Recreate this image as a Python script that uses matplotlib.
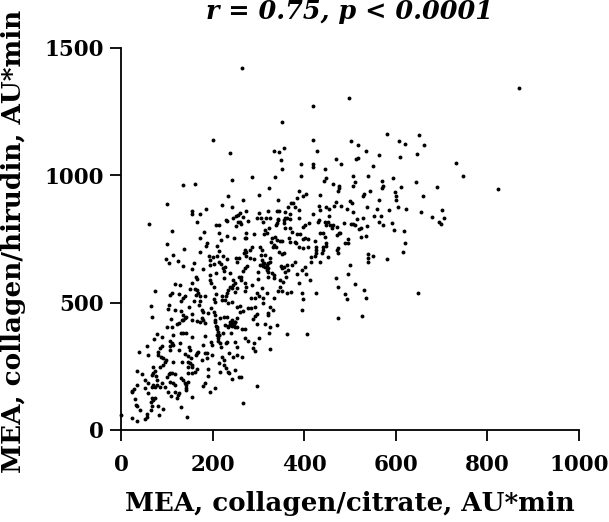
import matplotlib
matplotlib.use('Agg')
import matplotlib.pyplot as plt

# values, AU*min
citrate_high = [264, 498, 419, 352, 201, 419, 356, 333, 345, 427, 238, 350, 469, 481, 394, 419, 419, 352, 445, 287,
                337, 394, 242, 448, 443, 135, 161, 462, 477, 323, 475, 474, 388, 405, 398, 301, 234, 435, 384, 266,
                342, 499, 470, 221, 100, 242, 371, 375, 365, 381, 433, 480, 465, 185, 154, 154, 172, 273, 434, 448,
                455, 494, 420, 455, 389, 369, 358, 340, 345, 321, 302, 256, 260, 251, 267, 245, 296, 305, 316, 325,
                342, 358, 363, 388, 229]
hirudin_high = [1420, 1305, 1274, 1211, 1138, 1138, 1107, 1096, 1092, 1096, 1088, 1059, 1066, 1046, 1046, 1046, 1034, 1025, 1024, 994,
                995, 999, 983, 988, 977, 963, 966, 965, 960, 950, 949, 937, 940, 927, 919, 921, 917, 921, 910, 903,
                902, 898, 895, 885, 886, 877, 893, 893, 877, 874, 881, 881, 878, 868, 861, 847, 847, 861, 865, 874,
                869, 868, 847, 842, 863, 847, 855, 858, 859, 859, 852, 844, 851, 840, 835, 832, 831, 831, 833, 831,
                829, 831, 831, 833, 825]

citrate_right = [868, 580, 651, 502, 518, 608, 620, 662, 534, 563, 646, 610, 517, 513, 731, 551, 746, 507, 540, 593,
                 570, 510, 644, 573, 507, 612, 691, 570, 823, 543, 598, 530, 528, 600, 660, 600, 563, 505, 604, 538,
                 558, 586, 623, 701, 507, 655, 553, 567, 679, 706, 528, 515,
                 563, 592, 695, 698, 486, 502, 507, 512, 573, 538, 523, 520, 597, 618, 478, 536, 525, 496, 620, 489,
                 496, 615, 539, 539, 551, 581, 539, 501, 496, 510, 531, 648, 488, 536, 494, 526]
hirudin_right = [1343, 1164, 1158, 1134, 1119, 1134, 1124, 1121, 1096, 1081, 1083, 1072, 1069, 1066, 1048, 1037, 997, 997, 997, 988,
                 977, 974, 973, 960, 957, 953, 956, 949, 946, 939, 933, 927, 917, 920, 917, 903, 903, 890, 877, 876,
                 869, 865, 867, 865, 855, 855, 842, 842, 838, 834, 833, 827,
                 817, 813, 818, 809, 814, 809, 809, 804, 804, 800, 795, 788, 785, 783, 772, 763, 758, 751, 736, 733,
                 733, 700, 691, 677, 682, 673, 660, 647, 611, 572, 548, 538, 534, 518, 513, 446]

citrate_low_left = [0, 23, 36, 56, 53, 56, 84, 145, 132, 41, 33, 36, 30, 23, 28, 25, 36, 35, 46, 52,
                    58, 53, 70, 67, 74, 79, 79, 90, 85, 95, 59, 67, 70, 65, 74, 67, 65, 81, 91, 102,
                    109, 118, 122, 125, 127, 141, 154, 107, 104, 100, 111, 118, 107, 113, 118, 132, 136, 140, 143, 147,
                    143, 74, 70, 70, 68, 76, 86, 92, 96, 114, 133, 81, 87, 92, 99, 58, 39, 57, 90, 85,
                    81, 73, 78, 90, 107, 111, 108, 113, 107, 127, 114, 129, 131, 136, 141, 156, 140, 147, 152, 149,
                    151, 147, 151, 154, 147, 156, 165, 169, 164, 178, 183, 187, 198, 176, 187, 191, 165, 162, 154, 147,
                    191, 183, 178, 194, 205, 183, 197, 198, 209, 214, 212, 216, 218, 223, 241, 231, 229, 249, 254, 236,
                    245, 254, 213, 220, 224, 224, 229, 234, 236, 216, 249, 242, 258]
hirudin_low_left = [58, 47, 34, 50, 45, 63, 59, 50, 89, 77, 99, 94, 122, 154, 160, 150, 177, 232, 221, 196,
                    186, 166, 177, 170, 170, 177, 196, 183, 170, 168, 144, 124, 118, 111, 127, 94, 79, 94, 84, 151,
                    134, 151, 124, 137, 147, 157, 130, 225, 219, 207, 225, 219, 190, 183, 177, 203, 196, 183, 177, 190,
                    163, 233, 246, 222, 216, 212, 249, 255, 268, 266, 266, 294, 288, 281, 275, 294, 306, 330, 330, 321,
                    308, 356, 377, 367, 351, 340, 330, 334, 314, 314, 374, 340, 382, 382, 380, 367, 298, 291, 281, 327,
                    314, 268, 262, 255, 249, 249, 301, 308, 295, 334, 301, 304, 295, 275, 281, 238, 238, 229, 223, 222,
                    212, 186, 173, 151, 166, 369, 347, 334, 373, 373, 360, 340, 327, 380, 380, 347, 340, 347, 327, 301,
                    288, 295, 262, 288, 275, 255, 242, 229, 222, 229, 236, 199, 209]

citrate_mid_left = [111, 173, 181, 213, 232, 218, 247, 100, 138, 188, 185, 209, 215, 173, 113, 98, 105, 124, 135, 160,
                    154, 192, 194, 200, 210, 222, 232, 194, 204, 214, 218, 180, 194, 207, 223, 228, 225, 239, 250, 254,
                    258, 164, 165, 156, 194, 197, 202, 225, 245, 249, 245, 258, 118, 128, 74, 150, 162, 167, 169, 111,
                    107, 127, 140, 135, 131, 163, 172, 183, 207, 220, 238, 234, 231, 242, 229, 253, 249, 202, 205, 220,
                    227, 242, 234, 160, 172, 171, 65, 104, 102, 149, 118, 131, 176, 180, 196, 202, 205, 191, 254, 68,
                    109, 136, 142, 140, 156, 154, 165, 176, 180, 133, 127, 122, 111, 101, 205, 209, 216, 224, 231, 242,
                    249, 242, 234, 227, 254, 172, 183, 136, 254, 249, 61, 165, 207, 215, 231, 256, 252]
hirudin_mid_left = [781, 753, 776, 772, 763, 746, 753, 729, 711, 733, 724, 723, 704, 699, 687, 670, 656, 664, 644, 656,
                    634, 685, 668, 681, 683, 685, 672, 648, 651, 661, 651, 632, 609, 615, 635, 641, 626, 615, 674, 661,
                    674, 602, 592, 579, 589, 579, 563, 598, 589, 576, 569, 602, 573, 568, 547, 555, 552, 550, 539, 539,
                    529, 534, 528, 517, 508, 529, 526, 526, 533, 526, 563, 550, 539, 556, 528, 556, 543, 514, 504, 511,
                    511, 504, 497, 507, 508, 491, 487, 491, 474, 483, 470, 467, 471, 465, 478, 465, 452, 458, 484, 442,
                    435, 452, 445, 439, 454, 432, 428, 439, 432, 432, 419, 415, 403, 405, 432, 406, 439, 442, 445, 432,
                    425, 412, 406, 412, 439, 425, 419, 432, 406, 406, 810, 818, 804, 806, 822, 818, 800]

citrate_mid_right = [260, 263, 278, 311, 343, 340, 338, 355, 358, 369, 373, 411, 402, 398, 324, 314, 318, 312, 290, 272,
                     270, 274, 385, 391, 402, 398, 409, 434, 442, 446, 424, 447, 448, 475, 471, 460, 366, 368, 336, 340,
                     329, 347, 351, 328, 333, 331, 339, 344, 351, 355, 380, 383, 389, 398, 409, 426, 426, 426, 424, 442,
                     442, 438, 473, 471, 473, 453, 434, 414, 414, 285, 282, 274, 271, 269, 274, 303, 307, 305, 315, 282,
                     290, 276, 271, 267, 307, 309, 303, 311, 325, 318, 322, 329, 333, 300, 349, 355, 351, 362, 380, 373,
                     365, 358, 402, 396, 405, 412, 385, 389, 360, 347, 353, 333, 322, 300, 263, 263, 271, 274, 286, 307,
                     347, 470, 473, 433, 430, 446, 453, 448, 456, 462, 471, 369, 355]
hirudin_mid_right = [818, 808, 822, 818, 825, 812, 805, 825, 792, 792, 779, 812, 805, 798, 792, 785, 772, 768, 768, 772,
                     753, 753, 770, 768, 753, 749, 749, 775, 772, 759, 742, 736, 723, 775, 766, 792, 753, 740, 759, 746,
                     755, 744, 741, 740, 727, 717, 717, 700, 690, 694, 740, 733, 720, 716, 720, 720, 707, 694, 685, 720,
                     707, 694, 716, 707, 694, 681, 659, 681, 661, 720, 707, 700, 707, 696, 685, 720, 707, 687, 687, 674,
                     671, 645, 635, 624, 668, 655, 648, 644, 674, 628, 622, 615, 609, 619, 644, 641, 635, 648, 661, 648,
                     628, 622, 641, 628, 613, 589, 612, 579, 600, 589, 582, 596, 600, 592, 600, 589, 576, 563, 570, 557,
                     560, 598, 560, 825, 815, 815, 816, 805, 805, 805, 798, 827, 812]

citrate_low_right = [271, 296, 302, 311, 318, 333, 283, 293, 343, 351, 362, 371, 395, 425, 398, 309, 260, 278, 283, 293,
                     325, 331, 395, 260, 267, 320, 320, 298, 293, 288, 473, 315, 297, 340, 325, 264, 271, 323, 363, 407,
                     271, 277, 301, 290, 288, 293, 326, 265, 261, 298, 266]
hirudin_low_right = [546, 537, 528, 520, 539, 518, 518, 517, 546, 546, 539, 543, 539, 537, 513, 497, 487, 480, 480, 482,
                     482, 470, 471, 465, 467, 461, 452, 454, 449, 436, 441, 418, 418, 412, 403, 395, 395, 380, 376, 376,
                     360, 351, 361, 342, 321, 310, 317, 285, 209, 173, 105]

# tight clumps seen on the zoomed crops
citrate_clumps = [234, 238, 241, 245, 249, 237, 243, 247, 205, 207, 209, 211, 213, 212, 314, 318, 322, 325, 312, 320]
hirudin_clumps = [407, 412, 416, 420, 425, 424, 409, 418, 425, 410, 397, 385, 372, 350, 640, 647, 655, 660, 655, 636]

mea_citrate = citrate_high + citrate_right + citrate_low_left + citrate_mid_left + citrate_mid_right + citrate_low_right + citrate_clumps
mea_hirudin = hirudin_high + hirudin_right + hirudin_low_left + hirudin_mid_left + hirudin_mid_right + hirudin_low_right + hirudin_clumps

x_ticks = [0, 200, 400, 600, 800, 1000]
y_ticks = [0, 500, 1000, 1500]

W, H = 609, 522
fig = plt.figure(figsize=(W / 100, H / 100), dpi=100)
ax = fig.add_axes([121 / W, 1 - 430 / H, 458 / W, 382 / H])
ax.plot(mea_citrate, mea_hirudin, 'o', color='black', ms=2.8, mew=0, clip_on=False)

ax.set_xlim(0, 1000)
ax.set_ylim(0, 1500)
ax.set_xticks(x_ticks)
ax.set_yticks(y_ticks)
ax.spines['top'].set_visible(False)
ax.spines['right'].set_visible(False)
ax.spines['left'].set_linewidth(1.3)
ax.spines['bottom'].set_linewidth(1.3)
ax.tick_params(length=8, width=1.3)
ax.tick_params(axis='x', pad=9)
ax.tick_params(axis='y', pad=4)
for lab in ax.get_xticklabels() + ax.get_yticklabels():
    lab.set_fontfamily('DejaVu Serif')
    lab.set_fontweight('bold')
    lab.set_fontsize(15.5)

fig.text(350 / W, 1 - 504 / H, 'MEA, collagen/citrate, AU*min', family='DejaVu Serif', weight='bold',
         fontsize=18.8, ha='center', va='center')
fig.text(14 / W, 1 - 241 / H, 'MEA, collagen/hirudin, AU*min', family='DejaVu Serif', weight='bold',
         fontsize=18.9, rotation=90, ha='center', va='center')
fig.text(350 / W, 1 - 11 / H, 'r = 0.75, p < 0.0001', family='DejaVu Serif', weight='bold', style='italic',
         fontsize=18.4, ha='center', va='center')

fig.savefig('out.png', dpi=100)
